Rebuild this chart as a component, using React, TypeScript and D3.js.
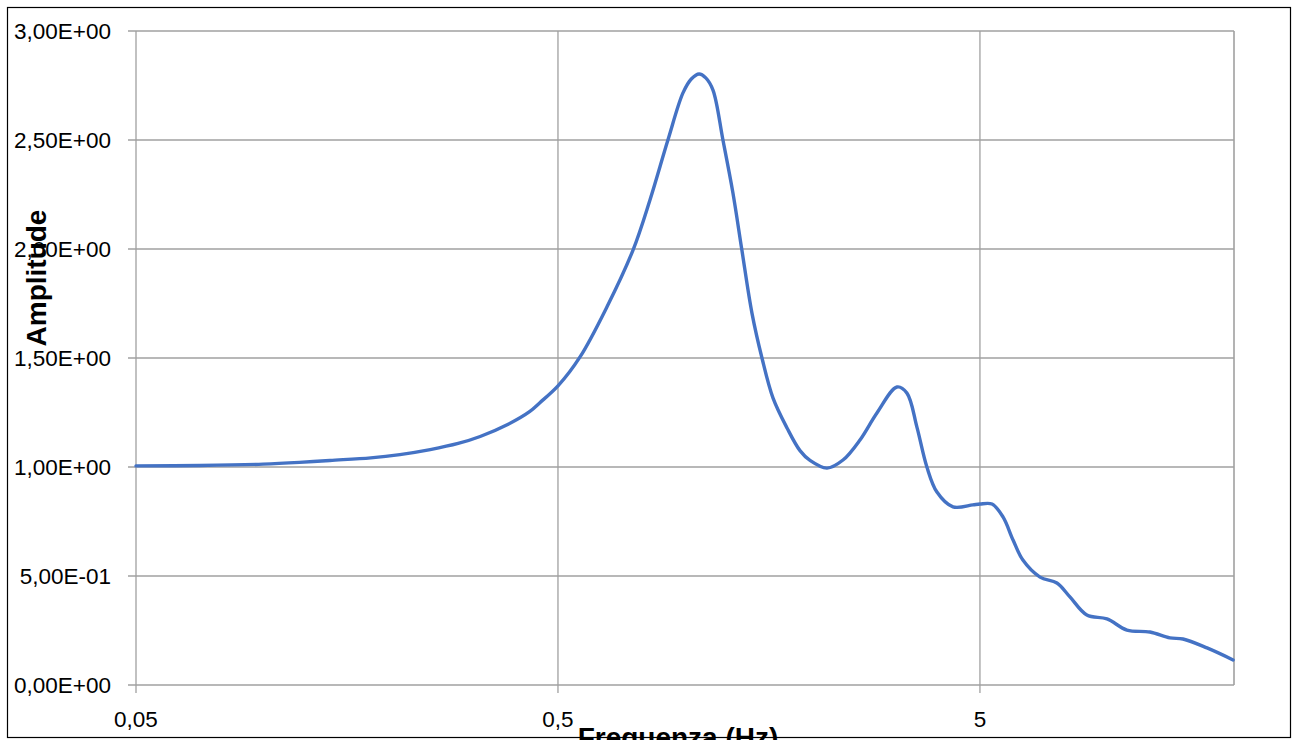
import { useEffect, useRef } from "react";
import * as d3 from "d3";

// frequency (Hz) and amplitude
const freq = [
  0.05, 0.0709, 0.1, 0.122, 0.144, 0.18, 0.211, 0.249, 0.29, 0.327, 0.38, 0.429, 0.453, 0.5,
  0.564, 0.653, 0.753, 0.826, 0.911, 0.989, 1.035, 1.08, 1.12, 1.165, 1.23, 1.299, 1.364, 1.441, 1.522,
  1.616, 1.745, 1.873, 1.978, 2.17, 2.368, 2.598, 2.85, 3.18, 3.357, 3.545, 3.743, 3.954,
  4.315, 4.81, 5.0, 5.34, 5.67, 5.99, 6.32, 6.94, 7.61, 8.17, 8.96, 10.0, 11.15, 12.64,
  14.1, 15.14, 17.26, 19.9,
];
const amplitude = [
  1.005, 1.007, 1.013, 1.021, 1.03, 1.042, 1.057, 1.08, 1.108, 1.14, 1.195, 1.255, 1.295, 1.372,
  1.505, 1.734, 1.995, 2.225, 2.5, 2.716, 2.78, 2.803, 2.785, 2.729, 2.5, 2.257, 1.995, 1.706, 1.5,
  1.317, 1.179, 1.075, 1.03, 0.995, 1.032, 1.124, 1.248, 1.367, 1.339, 1.183, 1.0, 0.885,
  0.817, 0.826, 0.83, 0.83, 0.771, 0.665, 0.573, 0.495, 0.468, 0.404, 0.321, 0.303, 0.252, 0.243,
  0.216, 0.211, 0.17, 0.115,
];
const xTicks = [0.05, 0.5, 5];
const xTickLabels = ["0,05", "0,5", "5"];
const yTicks = [0, 0.5, 1, 1.5, 2, 2.5, 3];
const yTickLabels = ["0,00E+00", "5,00E-01", "1,00E+00", "1,50E+00", "2,00E+00", "2,50E+00", "3,00E+00"];

const W = 1293;
const H = 740;
const grid = "#a0a0a0";

const App = () => {
  const ref = useRef<SVGSVGElement>(null);

  useEffect(() => {
    const svg = d3.select(ref.current);
    svg.selectAll("*").remove();

    const left = 136, right = 1234, top = 31, bottom = 685;
    const x = d3.scaleLog().domain([0.05, 20]).range([left, right]);
    const y = d3.scaleLinear().domain([0, 3]).range([bottom, top]);

    svg.append("rect")
      .attr("x", 7.5).attr("y", 7.5)
      .attr("width", 1283).attr("height", 730)
      .attr("fill", "white").attr("stroke", "black").attr("stroke-width", 1.2);

    // horizontal grid + y ticks
    svg.append("g").selectAll("line").data(yTicks).join("line")
      .attr("x1", left - 8).attr("x2", right)
      .attr("y1", (d) => y(d)).attr("y2", (d) => y(d))
      .attr("stroke", grid).attr("stroke-width", 1.3);

    // vertical grid + x ticks
    svg.append("g").selectAll("line").data(xTicks).join("line")
      .attr("x1", (d) => x(d)).attr("x2", (d) => x(d))
      .attr("y1", top).attr("y2", bottom + 8)
      .attr("stroke", grid).attr("stroke-width", 1.3);

    svg.append("line")
      .attr("x1", right).attr("x2", right).attr("y1", top).attr("y2", bottom)
      .attr("stroke", grid).attr("stroke-width", 1.6);

    svg.append("g").selectAll("text").data(yTicks).join("text")
      .attr("x", 111).attr("y", (d) => y(d) + 8)
      .attr("text-anchor", "end")
      .style("font-family", "'Liberation Sans', Arial, sans-serif")
      .style("font-size", "22.5px")
      .text((d, i) => yTickLabels[i]);

    svg.append("g").selectAll("text").data(xTicks).join("text")
      .attr("x", (d) => x(d)).attr("y", 727)
      .attr("text-anchor", "middle")
      .style("font-family", "'Liberation Sans', Arial, sans-serif")
      .style("font-size", "22.5px")
      .text((d, i) => xTickLabels[i]);

    const data = freq.map((f, i) => [f, amplitude[i]] as [number, number]);
    const line = d3.line<[number, number]>()
      .x((d) => x(d[0]))
      .y((d) => y(d[1]))
      .curve(d3.curveCatmullRom.alpha(0.5));

    svg.append("path")
      .datum(data)
      .attr("d", line)
      .attr("fill", "none")
      .attr("stroke", "#4472C4")
      .attr("stroke-width", 3.4)
      .attr("stroke-linejoin", "round")
      .attr("stroke-linecap", "round");

    svg.append("text")
      .attr("transform", `translate(46,278) rotate(-90)`)
      .attr("text-anchor", "middle")
      .style("font-family", "'Liberation Sans', Arial, sans-serif")
      .style("font-size", "28px")
      .style("font-weight", "bold")
      .text("Amplitude");

    // axis title sits partly below the frame, as in the original
    svg.append("text")
      .attr("x", 678).attr("y", 747)
      .attr("text-anchor", "middle")
      .style("font-family", "'Liberation Sans', Arial, sans-serif")
      .style("font-size", "28px")
      .style("font-weight", "bold")
      .text("Frequenza (Hz)");
  }, []);

  return (
    <div style={{ position: "absolute", left: 0, top: 0 }}>
      <svg ref={ref} width={W} height={H} style={{ display: "block" }} />
    </div>
  );
};

export default App;
